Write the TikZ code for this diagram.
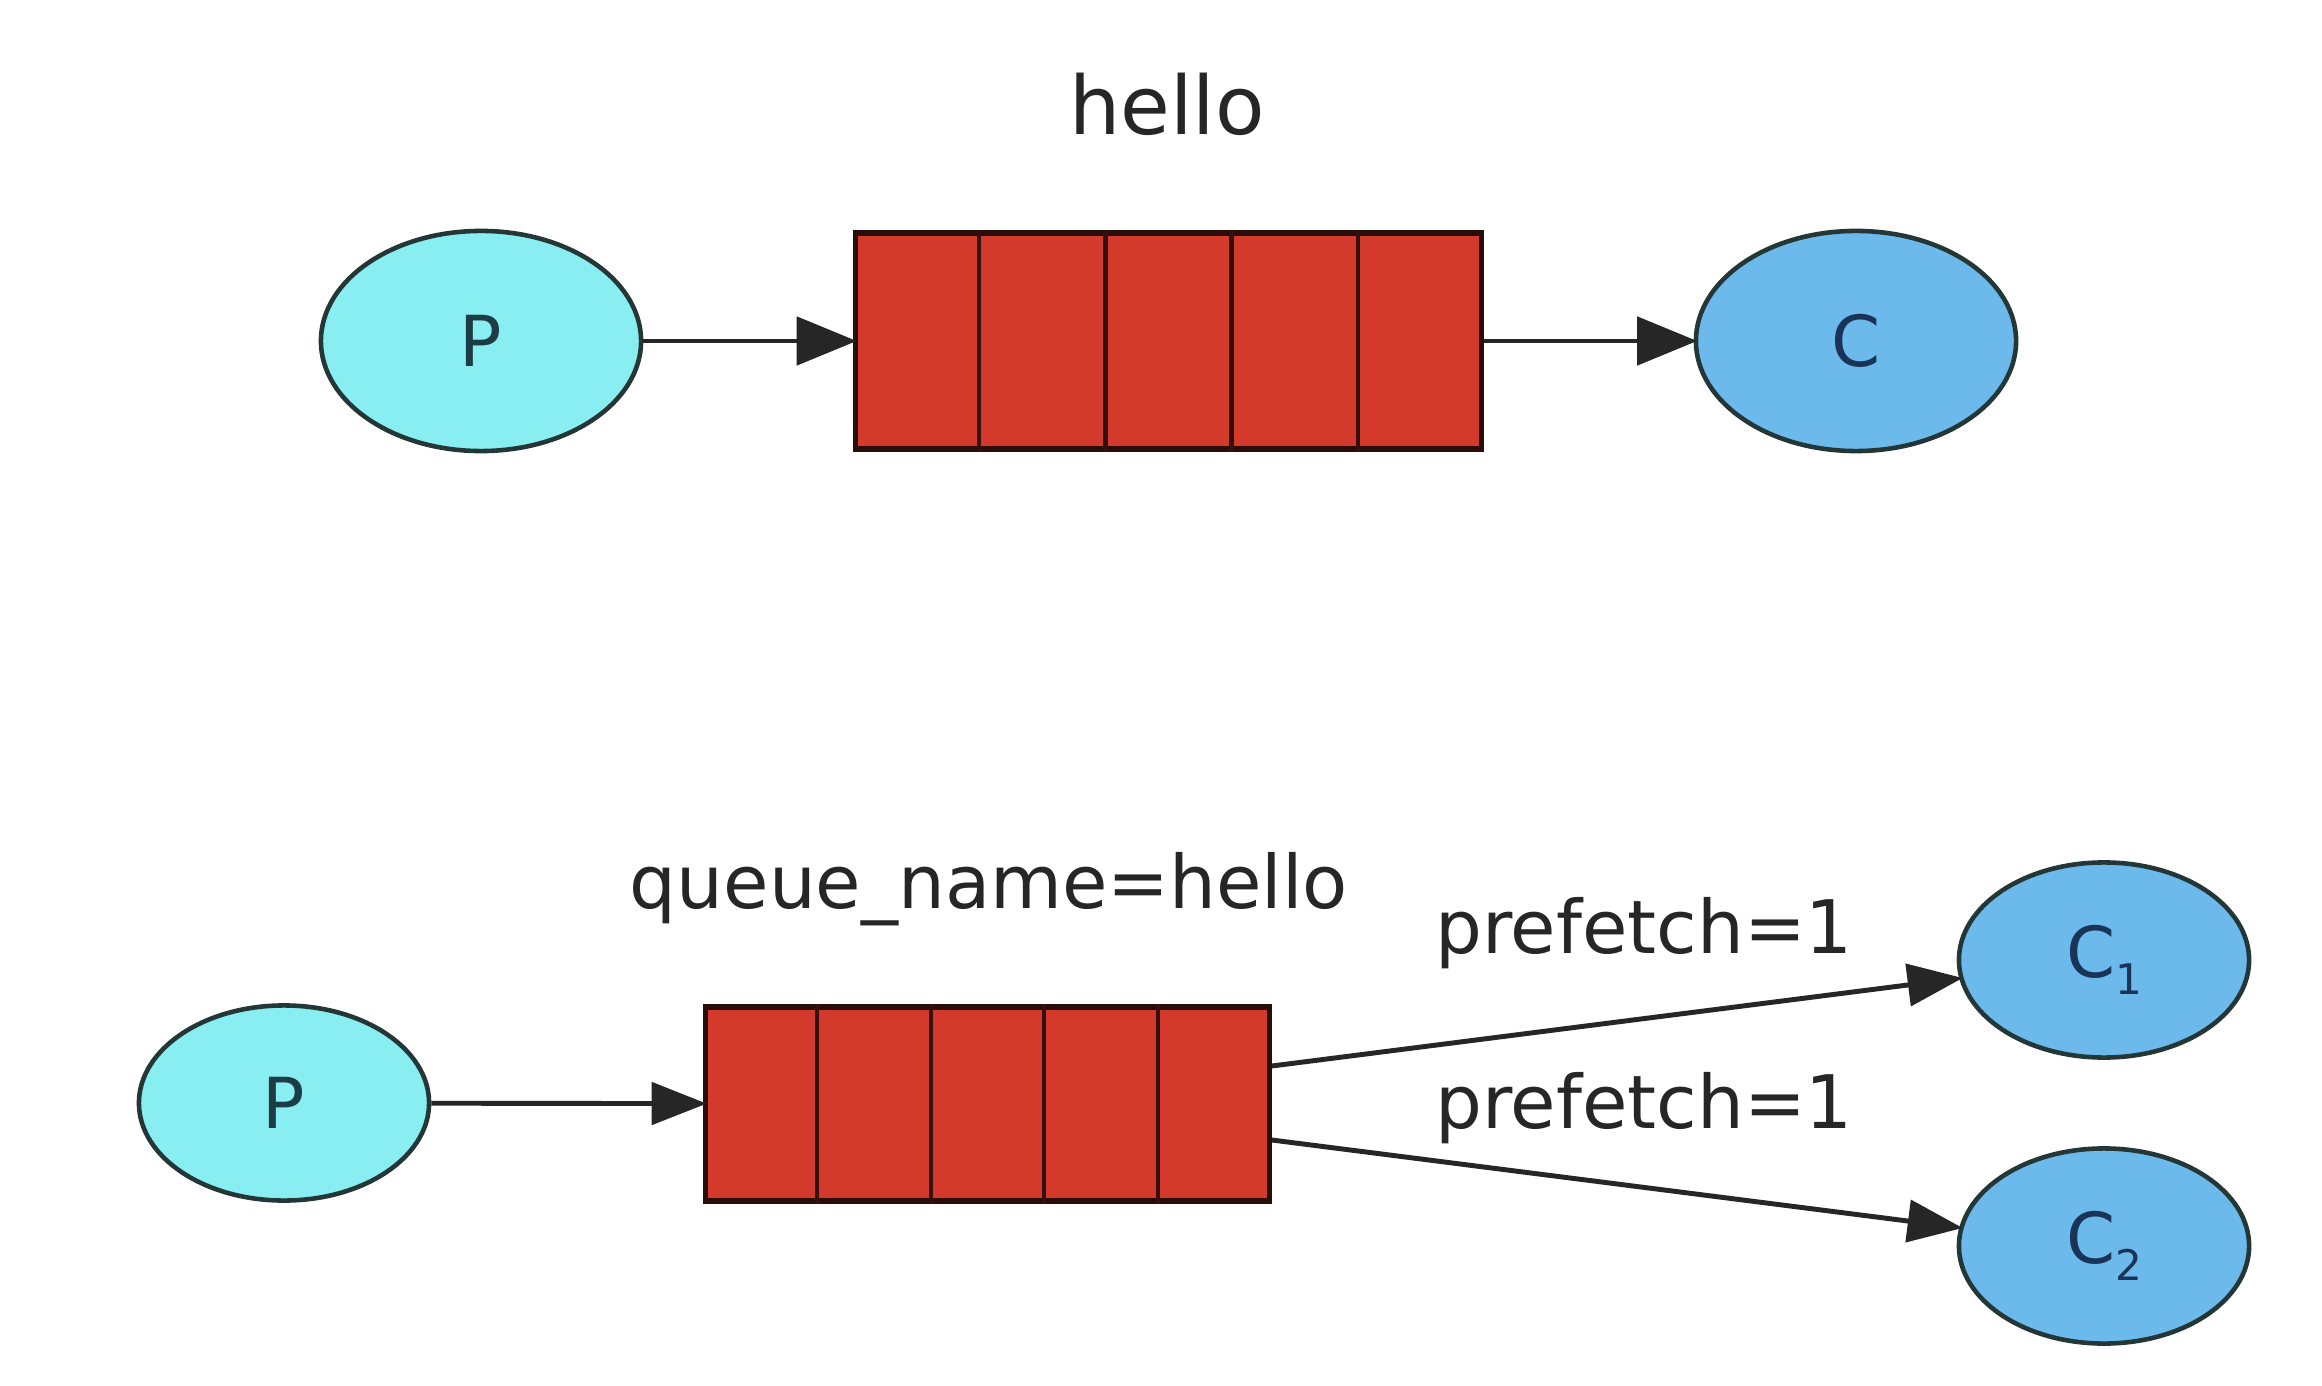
\documentclass[tikz,border=0pt]{standalone}
\usepackage{fontspec}
\setmainfont{DejaVu Sans}
\usetikzlibrary{shapes.geometric,arrows.meta,calc}
\definecolor{pfill}{HTML}{88EEF1}
\definecolor{cfill}{HTML}{6BBAEB}
\definecolor{qfill}{HTML}{D43A2B}
\definecolor{edgecol}{HTML}{243636}
\definecolor{ptext}{HTML}{1C3C46}
\definecolor{ctext}{HTML}{1A3358}
\definecolor{labtext}{HTML}{262626}
\newcommand{\subdig}[1]{{\raisebox{-0.45ex}{\fontsize{12}{12}\selectfont #1}}}
\begin{document}
\begin{tikzpicture}[x=0.01cm,y=-0.01cm,
  prodbig/.style={ellipse, draw=edgecol, line width=1.3pt, fill=pfill, inner sep=0pt,
    minimum width=3.2cm, minimum height=2.2cm, text=ptext, font=\fontsize{20}{24}\selectfont},
  consbig/.style={prodbig, fill=cfill, text=ctext},
  prodsmall/.style={prodbig, minimum width=2.9cm, minimum height=1.95cm},
  conssmall/.style={consbig, minimum width=2.9cm, minimum height=1.95cm},
  queuebox/.style={rectangle, draw=black!80!qfill, line width=1.5pt, fill=qfill, inner sep=0pt},
  divider/.style={draw=black!75!qfill, line width=1.2pt},
  conn/.style={draw=black!85, line width=1.4pt, -{Triangle[length=0.6cm, width=0.48cm]}, shorten >=-1pt},
  connsmall/.style={conn, -{Triangle[length=0.55cm, width=0.42cm]}},
  lab/.style={text=labtext, inner sep=0pt}
]
\fill[white] (0,0) rectangle (2322,1386);
\useasboundingbox (0,0) rectangle (2322,1386);

% ---------- top diagram ----------
\node[lab, font=\fontsize{23}{27}\selectfont] (title1) at (1167,104) {hello};
\node[prodbig] (p1) at (481,341) {P};
\node[queuebox, minimum width=6.25cm, minimum height=2.16cm] (q1) at (1168.5,341) {};
\foreach \f in {0.2,0.4,0.6,0.8}{
  \draw[divider] ($(q1.north west)!\f!(q1.north east)$) -- ($(q1.south west)!\f!(q1.south east)$);
}
\node[consbig] (c1) at (1856,341) {C};
\draw[conn] (p1) -- (q1);
\draw[conn] (q1) -- (c1);

% ---------- bottom diagram ----------
\node[lab, font=\fontsize{21}{25}\selectfont] (title2) at (989,889) {queue\_name=hello};
\node[prodsmall] (p2) at (284,1103) {P};
\node[queuebox, minimum width=5.63cm, minimum height=1.94cm] (q2) at (987.5,1104) {};
\foreach \f in {0.2,0.4,0.6,0.8}{
  \draw[divider] ($(q2.north west)!\f!(q2.north east)$) -- ($(q2.south west)!\f!(q2.south east)$);
}
\node[conssmall] (cc1) at (2104,960) {C\subdig{1}};
\node[conssmall] (cc2) at (2104,1246) {C\subdig{2}};
\coordinate (q2a) at ($(q2.east)+(0,-38)$);
\coordinate (q2b) at ($(q2.east)+(0,36)$);
\draw[connsmall] (p2) -- (q2);
\draw[connsmall] (q2a) -- (cc1);
\draw[connsmall] (q2b) -- (cc2);
\node[lab, font=\fontsize{21}{25}\selectfont] (pf1) at (1644,933) {prefetch=1};
\node[lab, font=\fontsize{21}{25}\selectfont] (pf2) at (1644,1108) {prefetch=1};
\end{tikzpicture}
\end{document}
